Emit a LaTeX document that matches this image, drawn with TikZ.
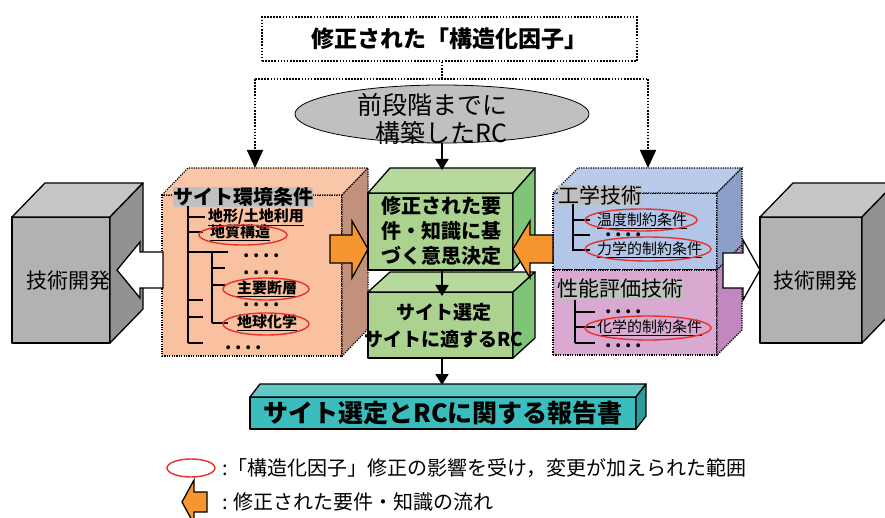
\documentclass[tikz,border=0pt]{standalone}
\usepackage{fontspec}
\setmainfont{Noto Sans CJK JP}
\usetikzlibrary{arrows.meta,shapes.geometric}
\definecolor{grfront}{HTML}{B2B2B2}
\definecolor{grtop}{HTML}{C6C6C6}
\definecolor{grright}{HTML}{929292}
\definecolor{orfront}{HTML}{F9C19F}
\definecolor{ortop}{HTML}{F9C6A8}
\definecolor{orright}{HTML}{C1917C}
\definecolor{gnfront}{HTML}{ABD38F}
\definecolor{gntop}{HTML}{B6DA9D}
\definecolor{gnright}{HTML}{80C477}
\definecolor{blfront}{HTML}{B4C6E7}
\definecolor{bltop}{HTML}{B9CAEA}
\definecolor{blright}{HTML}{8C9FC8}
\definecolor{pkfront}{HTML}{D9A9D1}
\definecolor{pkright}{HTML}{C187C0}
\definecolor{tlfront}{HTML}{3CBDBD}
\definecolor{tltop}{HTML}{62C9C6}
\definecolor{tlright}{HTML}{2E9B9B}
\definecolor{arrorange}{HTML}{F7962F}
\definecolor{ovalred}{HTML}{E8312C}
\definecolor{hlgray}{HTML}{C0C0C0}
\newcommand{\fsz}[1]{\fontsize{#1}{#1}\selectfont}
\newcommand{\fszl}[2]{\fontsize{#1}{#2}\selectfont}
\newcommand{\fourdots}{.\hspace{4pt}.\hspace{4pt}.\hspace{4pt}.}
\begin{document}
\begin{tikzpicture}[x=1pt,y=-1pt,
  face/.style={draw=black,line width=1.3pt,line join=round},
  dface/.style={draw=black,line width=1.2pt,dash pattern=on 1.2pt off 1.2pt},
  front/.style={anchor=north west,inner sep=0pt,outer sep=0pt},
  txt/.style={inner sep=0pt,outer sep=0pt,text=black},
  tree/.style={line width=1.4pt},
  oval/.style={ellipse,draw=ovalred,line width=1.4pt,inner sep=0pt},
  blockarrow/.style={draw=black,line width=1.3pt,line join=miter},
  dotline/.style={line width=1.6pt,dash pattern=on 1.6pt off 1.5pt},
  bigtip/.style={-{Triangle[length=18pt,width=16pt]}},
  solidarr/.style={line width=1.8pt,-{Triangle[length=11pt,width=13pt]}},
  itemb/.style={txt,anchor=west,font=\bfseries\fsz{15}},
  itemr/.style={txt,anchor=west,font=\fsz{15}},
  dotrow/.style={txt,anchor=west,font=\bfseries\fsz{18},text height=3pt,text depth=0pt}
]
\useasboundingbox (0,0) rectangle (885,518);
\clip (0,0) rectangle (885,518);

% ---- gray cubes (技術開発)
\node[front,face,fill=grfront,minimum width=98pt,minimum height=126pt] (devL) at (12,217) {};
\filldraw[face,fill=grtop] (devL.north west) -- ++(33,-34) -- ++(98,0) -- (devL.north east) -- cycle;
\filldraw[face,fill=grright] (devL.north east) -- ++(33,-34) -- ++(0,126) -- (devL.south east) -- cycle;
\node[txt,font=\fsz{21}] (devLt) at (68,281) {技術開発};

\node[front,face,fill=grfront,minimum width=102pt,minimum height=126pt] (devR) at (760,217) {};
\filldraw[face,fill=grtop] (devR.north west) -- ++(33,-34) -- ++(102,0) -- (devR.north east) -- cycle;
\filldraw[face,fill=grright] (devR.north east) -- ++(33,-34) -- ++(0,126) -- (devR.south east) -- cycle;
\node[txt,font=\fsz{21}] (devRt) at (815,281) {技術開発};

% ---- site environment box (orange)
\node[front,dface,fill=orfront,minimum width=180pt,minimum height=161pt] (site) at (162,195) {};
\filldraw[dface,fill=ortop] (site.north west) -- ++(26,-27) -- ++(180,0) -- (site.north east) -- cycle;
\filldraw[dface,fill=orright] (site.north east) -- ++(26,-27) -- ++(0,161) -- (site.south east) -- cycle;

% ---- technology boxes (blue / pink)
\node[front,dface,fill=blfront,minimum width=164pt,minimum height=77pt] (tech) at (553,193) {};
\node[front,dface,fill=pkfront,minimum width=164pt,minimum height=85pt] (perf) at (553,270) {};
\filldraw[dface,fill=bltop] (tech.north west) -- ++(25,-25) -- ++(164,0) -- (tech.north east) -- cycle;
\filldraw[dface,fill=blright] (tech.north east) -- ++(25,-25) -- ++(0,77) -- (tech.south east) -- cycle;
\filldraw[dface,fill=pkright] (perf.north east) -- ++(25,-25) -- ++(0,85) -- (perf.south east) -- cycle;

% ---- green boxes
\node[front,face,fill=gnfront,minimum width=145pt,minimum height=77pt] (g1) at (368,193) {};
\filldraw[face,fill=gntop] (g1.north west) -- ++(22,-25) -- ++(145,0) -- (g1.north east) -- cycle;
\filldraw[face,fill=gnright] (g1.north east) -- ++(22,-25) -- ++(0,77) -- (g1.south east) -- cycle;
\node[txt,font=\bfseries\fszl{20}{25},align=center] (g1t) at (441,231) {修正された要\\件・知識に基\\づく意思決定};

\node[front,face,fill=gnfront,minimum width=145pt,minimum height=66pt] (g2) at (368,292) {};
\filldraw[face,fill=gntop] (g2.north west) -- ++(22,-20) -- ++(145,0) -- (g2.north east) -- cycle;
\filldraw[face,fill=gnright] (g2.north east) -- ++(22,-20) -- ++(0,66) -- (g2.south east) -- cycle;
\node[txt,font=\bfseries\fszl{19}{27},align=center] (g2t) at (444,326) {サイト選定\\サイトに適するRC};

% ---- block arrows
\filldraw[blockarrow,fill=arrorange] (330,235) -- (352,235) -- (352,221) -- (368,249) -- (352,278) -- (352,263) -- (330,263) -- cycle;
\filldraw[blockarrow,fill=arrorange] (553,235) -- (530,235) -- (530,221) -- (513,249) -- (530,278) -- (530,263) -- (553,263) -- cycle;
\filldraw[blockarrow,fill=white] (163,252) -- (140,252) -- (140,242) -- (117,270) -- (140,298) -- (140,288) -- (163,288) -- cycle;
\filldraw[blockarrow,fill=white] (723,253) -- (743,253) -- (743,240) -- (760,270) -- (743,300) -- (743,288) -- (723,288) -- cycle;

% ---- site tree
\node[txt,anchor=west,fill=hlgray,font=\bfseries\fsz{20}] (siteT) at (173,197) {サイト環境条件};
\draw[tree] (188,206) -- (188,343);
\draw[tree] (188,217) -- (205,217);
\draw[tree] (188,232) -- (203,232);
\draw[tree] (188,252) -- (228,252);
\draw[tree] (188,300) -- (203,300);
\draw[tree] (188,317) -- (203,317);
\draw[tree] (188,343) -- (203,343);
\draw[tree] (212,252) -- (212,323);
\draw[tree] (212,268) -- (225,268);
\draw[tree] (212,285) -- (225,285);
\draw[tree] (212,323) -- (228,323);
\node[itemb] (s1) at (208,217) {\underline{地形/土地利用}};
\node[itemb] (s2) at (210,233) {\underline{地質構造}};
\node[oval,minimum width=88pt,minimum height=20pt] (o1) at (243,235) {};
\node[dotrow] (s3) at (243,256) {\fourdots};
\node[dotrow] (s4) at (243,273) {\fourdots};
\node[itemb] (s5) at (237,289) {\underline{主要断層}};
\node[oval,minimum width=86pt,minimum height=22pt] (o2) at (266,289) {};
\node[dotrow] (s6) at (243,305) {\fourdots};
\node[itemb] (s7) at (237,323) {\underline{地球化学}};
\node[oval,minimum width=86pt,minimum height=22pt] (o3) at (266,324) {};
\node[dotrow] (s8) at (225,348) {\fourdots};

% ---- tech tree
\node[txt,anchor=west,fill=hlgray,font=\fsz{21}] (techT) at (558,195) {工学技術};
\draw[tree] (573,204) -- (573,251);
\draw[tree] (573,220) -- (590,220);
\draw[tree] (573,235) -- (590,235);
\draw[tree] (573,250) -- (590,250);
\node[dotrow] (t2) at (605,235) {\fourdots};
\node[itemr] (t1) at (597,221) {\underline{温度制約条件}};
\node[oval,minimum width=112pt,minimum height=22pt] (o4) at (641,220) {};
\node[itemr] (t3) at (597,250) {\underline{力学的制約条件}};
\node[oval,minimum width=126pt,minimum height=24pt] (o5) at (648,249) {};

\node[txt,anchor=west,fill=hlgray,font=\fsz{21}] (perfT) at (557,289) {性能評価技術};
\draw[tree] (575,300) -- (575,343);
\draw[tree] (575,312) -- (595,312);
\draw[tree] (575,327) -- (595,327);
\draw[tree] (575,343) -- (595,343);
\node[dotrow] (p1) at (605,312) {\fourdots};
\node[itemr] (p2) at (597,328) {\underline{化学的制約条件}};
\node[oval,minimum width=126pt,minimum height=24pt] (o6) at (648,328) {};
\node[dotrow] (p3) at (605,346) {\fourdots};

% ---- top: modified structural factors
\node[draw=black,dotline,fill=white,minimum width=375pt,minimum height=44pt,inner sep=0pt,font=\bfseries\fsz{23}] (title) at (449.5,39) {修正された「構造化因子」};
\coordinate (split) at (442,79);
\coordinate (lt) at (255,79);
\coordinate (rt) at (648,79);
\coordinate (sitetop) at (255,168);
\coordinate (techtop) at (648,168);
\draw[dotline] (title.south -| split) -- (split);
\draw[dotline] (lt) -- (rt);
\draw[dotline,bigtip] (lt) -- (sitetop);
\draw[dotline,bigtip] (rt) -- (techtop);

\node[ellipse,draw=black,line width=0.8pt,fill=hlgray,minimum width=294pt,minimum height=58pt,inner sep=0pt] (prev) at (442,114) {};
\node[txt,anchor=east,align=right,font=\fszl{25}{28}] (prevt) at (507,119) {前段階までに\\構築したRC};

\coordinate (g1top) at (442,170);
\coordinate (g2in) at (442,296);
\coordinate (reptop) at (442,385);
\draw[solidarr] (prev.south) -- (g1top);
\draw[solidarr] (g1.south -| g2in) -- (g2in);
\draw[solidarr] (g2.south -| reptop) -- (reptop);

% ---- report box
\node[front,face,fill=tlfront,minimum width=386pt,minimum height=32pt] (rep) at (250,397) {};
\filldraw[face,fill=tltop] (rep.north west) -- ++(10,-13) -- ++(386,0) -- (rep.north east) -- cycle;
\filldraw[face,fill=tlright] (rep.north east) -- ++(10,-13) -- ++(0,32) -- (rep.south east) -- cycle;
\node[txt,font=\bfseries\fsz{25}] (rept) at (443,413) {サイト選定とRCに関する報告書};

% ---- legend
\node[oval,minimum width=48pt,minimum height=18pt] (legov) at (191,468) {};
\node[txt,anchor=west,font=\fsz{20}] (legt1) at (222,468) {:「構造化因子」修正の影響を受け，変更が加えられた範囲};
\filldraw[blockarrow,fill=arrorange] (207,492) -- (194,492) -- (194,480) -- (182,502) -- (194,524) -- (194,512) -- (207,512) -- cycle;
\node[txt,anchor=west,font=\fsz{20}] (legt2) at (222,502) {: 修正された要件・知識の流れ};
\end{tikzpicture}
\end{document}
